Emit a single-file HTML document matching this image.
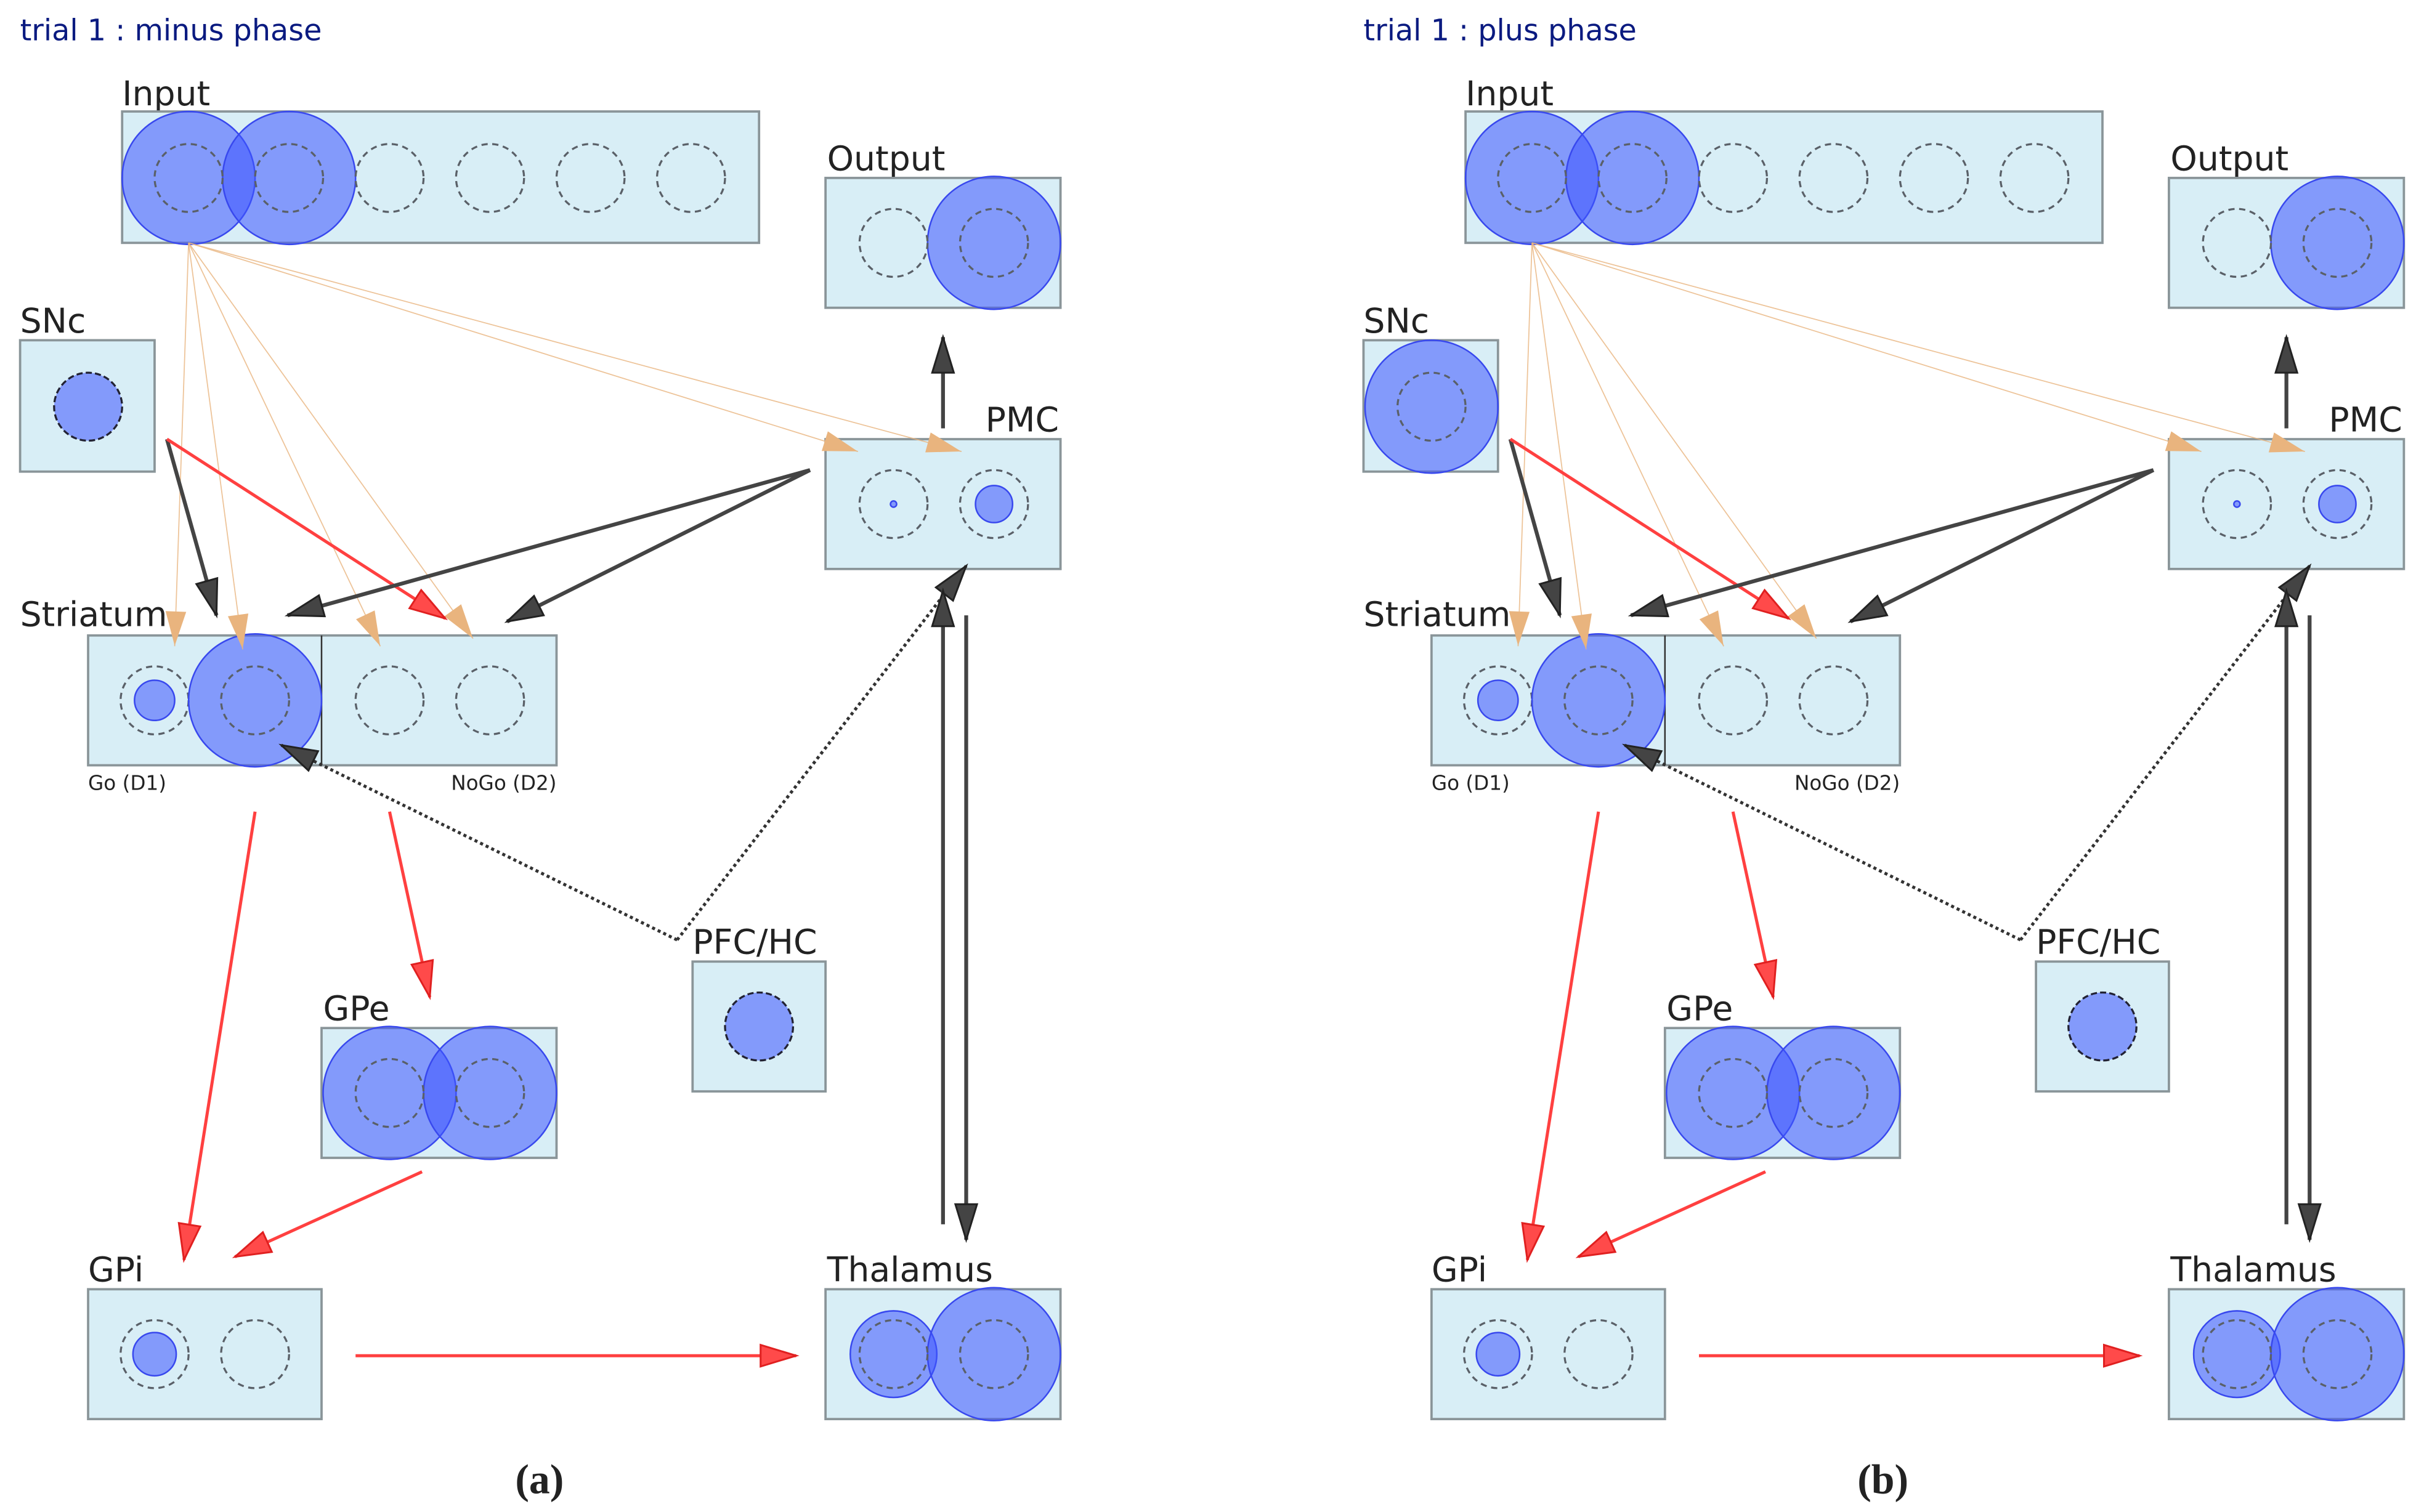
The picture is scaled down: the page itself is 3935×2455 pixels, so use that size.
<!DOCTYPE html>
<html><head><meta charset="utf-8"><style>
html,body{margin:0;padding:0;background:#fff}
svg{display:block}
text{font-family:"DejaVu Sans","Liberation Sans",sans-serif;fill:#222}
</style></head><body>
<svg width="3935" height="2455" viewBox="0 0 1568 978" xmlns="http://www.w3.org/2000/svg">
<defs>
<marker id="mk" markerUnits="userSpaceOnUse" markerWidth="26" markerHeight="18" refX="24" refY="8" orient="auto"><path d="M1,1 L24,8 L1,15 Z" fill="#444" stroke="#222" stroke-width="1.2"/></marker>
<marker id="mt" markerUnits="userSpaceOnUse" markerWidth="26" markerHeight="18" refX="24" refY="8" orient="auto"><path d="M2,2 L22,8 L2,14 Z" fill="#e9b47e" stroke="#e9b47e" stroke-width="1"/></marker>
<marker id="mr" markerUnits="userSpaceOnUse" markerWidth="26" markerHeight="18" refX="24" refY="8" orient="auto"><path d="M1,1 L24,8 L1,15 Z" fill="#ff4a4a" stroke="#e02020" stroke-width="1.2"/></marker>
</defs>
<style>
.bx{fill:#d8eef6;stroke:#8a9599;stroke-width:1.5}
.ds{fill:none;stroke:#5a6068;stroke-width:1.3;stroke-dasharray:4 3}
.ac{fill:#3e55ff;fill-opacity:0.55;stroke:#3848ee;stroke-width:1}
.ad{fill:#3e55ff;fill-opacity:0.55;stroke:#223;stroke-width:1.3;stroke-dasharray:4 2}
.lb{font-size:22px}
.sm{font-size:13px}
.tn{stroke:#e9b47e;stroke-width:0.7;stroke-opacity:0.8;fill:none}
.bk{stroke:#444;stroke-width:2.5;fill:none}
.rd{stroke:#ff4040;stroke-width:2;fill:none}
.dt{stroke:#333;stroke-width:2;stroke-dasharray:2 2;fill:none}
</style>

<!-- PANEL A -->
<g>
<text x="13" y="26" style="font-size:19px;fill:#0a1a80">trial 1 : minus phase</text>
<text class="lb" x="79" y="68">Input</text>
<rect class="bx" x="79" y="72" width="412" height="85"/>
<circle class="ac" cx="122" cy="115" r="43"/><circle class="ac" cx="187" cy="115" r="43"/>
<circle class="ds" cx="122" cy="115" r="22"/><circle class="ds" cx="187" cy="115" r="22"/><circle class="ds" cx="252" cy="115" r="22"/><circle class="ds" cx="317" cy="115" r="22"/><circle class="ds" cx="382" cy="115" r="22"/><circle class="ds" cx="447" cy="115" r="22"/>
<text class="lb" x="535" y="110">Output</text>
<rect class="bx" x="534" y="115" width="152" height="84"/>
<circle class="ac" cx="643" cy="157" r="43"/>
<circle class="ds" cx="578" cy="157" r="22"/><circle class="ds" cx="643" cy="157" r="22"/>
<text class="lb" x="13" y="215">SNc</text>
<rect class="bx" x="13" y="220" width="87" height="85"/>
<circle class="ad" cx="57" cy="263" r="22"/>
<text class="lb" x="685" y="279" text-anchor="end">PMC</text>
<rect class="bx" x="534" y="284" width="152" height="84"/>
<circle class="ds" cx="578" cy="326" r="22"/><circle class="ac" cx="578" cy="326" r="2"/>
<circle class="ds" cx="643" cy="326" r="22"/><circle class="ac" cx="643" cy="326" r="12"/>
<text class="lb" x="13" y="405">Striatum</text>
<rect class="bx" x="57" y="411" width="303" height="84"/>
<line x1="208" y1="411" x2="208" y2="495" stroke="#333" stroke-width="1"/>
<circle class="ds" cx="100" cy="453" r="22"/><circle class="ac" cx="100" cy="453" r="13"/>
<circle class="ac" cx="165" cy="453" r="43"/><circle class="ds" cx="165" cy="453" r="22"/>
<circle class="ds" cx="252" cy="453" r="22"/><circle class="ds" cx="317" cy="453" r="22"/>
<text class="sm" x="57" y="511">Go (D1)</text>
<text class="sm" x="360" y="511" text-anchor="end">NoGo (D2)</text>
<text class="lb" x="209" y="660">GPe</text>
<rect class="bx" x="208" y="665" width="152" height="84"/>
<circle class="ac" cx="252" cy="707" r="43"/><circle class="ac" cx="317" cy="707" r="43"/>
<circle class="ds" cx="252" cy="707" r="22"/><circle class="ds" cx="317" cy="707" r="22"/>
<text class="lb" x="448" y="617">PFC/HC</text>
<rect class="bx" x="448" y="622" width="86" height="84"/>
<circle class="ad" cx="491" cy="664" r="22"/>
<text class="lb" x="57" y="829">GPi</text>
<rect class="bx" x="57" y="834" width="151" height="84"/>
<circle class="ds" cx="100" cy="876" r="22"/><circle class="ac" cx="100" cy="876" r="14"/>
<circle class="ds" cx="165" cy="876" r="22"/>
<text class="lb" x="535" y="829">Thalamus</text>
<rect class="bx" x="534" y="834" width="152" height="84"/>
<circle class="ac" cx="578" cy="876" r="28"/><circle class="ac" cx="643" cy="876" r="43"/>
<circle class="ds" cx="578" cy="876" r="22"/><circle class="ds" cx="643" cy="876" r="22"/>
<line class="tn" x1="122" y1="157" x2="113" y2="418" marker-end="url(#mt)"/>
<line class="tn" x1="122" y1="157" x2="157" y2="420" marker-end="url(#mt)"/>
<line class="tn" x1="122" y1="157" x2="246" y2="418" marker-end="url(#mt)"/>
<line class="tn" x1="122" y1="157" x2="306" y2="413" marker-end="url(#mt)"/>
<line class="tn" x1="122" y1="157" x2="555" y2="292" marker-end="url(#mt)"/>
<line class="tn" x1="122" y1="157" x2="622" y2="292" marker-end="url(#mt)"/>
<line class="bk" x1="108" y1="284" x2="140" y2="398" marker-end="url(#mk)"/>
<line class="rd" x1="108" y1="284" x2="288" y2="400" marker-end="url(#mr)"/>
<line class="bk" x1="524" y1="304" x2="186" y2="398" marker-end="url(#mk)"/>
<line class="bk" x1="524" y1="304" x2="328" y2="402" marker-end="url(#mk)"/>
<line class="bk" x1="610" y1="277" x2="610" y2="218" marker-end="url(#mk)"/>
<polyline class="dt" points="438,608 182,482" marker-end="url(#mk)"/>
<polyline class="dt" points="438,608 625,366" marker-end="url(#mk)"/>
<line class="bk" x1="610" y1="792" x2="610" y2="382" marker-end="url(#mk)"/>
<line class="bk" x1="625" y1="398" x2="625" y2="802" marker-end="url(#mk)"/>
<line class="rd" x1="165" y1="525" x2="119" y2="815" marker-end="url(#mr)"/>
<line class="rd" x1="252" y1="525" x2="278" y2="645" marker-end="url(#mr)"/>
<line class="rd" x1="273" y1="758" x2="152" y2="813" marker-end="url(#mr)"/>
<line class="rd" x1="230" y1="877" x2="515" y2="877" marker-end="url(#mr)"/>
<text x="349" y="966" text-anchor="middle" style="font-family:'Liberation Serif',serif;font-weight:bold;font-size:27px">(a)</text>
</g>

<!-- PANEL B -->
<g transform="translate(869,0)">
<text x="13" y="26" style="font-size:19px;fill:#0a1a80">trial 1 : plus phase</text>
<text class="lb" x="79" y="68">Input</text>
<rect class="bx" x="79" y="72" width="412" height="85"/>
<circle class="ac" cx="122" cy="115" r="43"/><circle class="ac" cx="187" cy="115" r="43"/>
<circle class="ds" cx="122" cy="115" r="22"/><circle class="ds" cx="187" cy="115" r="22"/><circle class="ds" cx="252" cy="115" r="22"/><circle class="ds" cx="317" cy="115" r="22"/><circle class="ds" cx="382" cy="115" r="22"/><circle class="ds" cx="447" cy="115" r="22"/>
<text class="lb" x="535" y="110">Output</text>
<rect class="bx" x="534" y="115" width="152" height="84"/>
<circle class="ac" cx="643" cy="157" r="43"/>
<circle class="ds" cx="578" cy="157" r="22"/><circle class="ds" cx="643" cy="157" r="22"/>
<text class="lb" x="13" y="215">SNc</text>
<rect class="bx" x="13" y="220" width="87" height="85"/>
<circle class="ac" cx="57" cy="263" r="43"/><circle class="ds" cx="57" cy="263" r="22"/>
<text class="lb" x="685" y="279" text-anchor="end">PMC</text>
<rect class="bx" x="534" y="284" width="152" height="84"/>
<circle class="ds" cx="578" cy="326" r="22"/><circle class="ac" cx="578" cy="326" r="2"/>
<circle class="ds" cx="643" cy="326" r="22"/><circle class="ac" cx="643" cy="326" r="12"/>
<text class="lb" x="13" y="405">Striatum</text>
<rect class="bx" x="57" y="411" width="303" height="84"/>
<line x1="208" y1="411" x2="208" y2="495" stroke="#333" stroke-width="1"/>
<circle class="ds" cx="100" cy="453" r="22"/><circle class="ac" cx="100" cy="453" r="13"/>
<circle class="ac" cx="165" cy="453" r="43"/><circle class="ds" cx="165" cy="453" r="22"/>
<circle class="ds" cx="252" cy="453" r="22"/><circle class="ds" cx="317" cy="453" r="22"/>
<text class="sm" x="57" y="511">Go (D1)</text>
<text class="sm" x="360" y="511" text-anchor="end">NoGo (D2)</text>
<text class="lb" x="209" y="660">GPe</text>
<rect class="bx" x="208" y="665" width="152" height="84"/>
<circle class="ac" cx="252" cy="707" r="43"/><circle class="ac" cx="317" cy="707" r="43"/>
<circle class="ds" cx="252" cy="707" r="22"/><circle class="ds" cx="317" cy="707" r="22"/>
<text class="lb" x="448" y="617">PFC/HC</text>
<rect class="bx" x="448" y="622" width="86" height="84"/>
<circle class="ad" cx="491" cy="664" r="22"/>
<text class="lb" x="57" y="829">GPi</text>
<rect class="bx" x="57" y="834" width="151" height="84"/>
<circle class="ds" cx="100" cy="876" r="22"/><circle class="ac" cx="100" cy="876" r="14"/>
<circle class="ds" cx="165" cy="876" r="22"/>
<text class="lb" x="535" y="829">Thalamus</text>
<rect class="bx" x="534" y="834" width="152" height="84"/>
<circle class="ac" cx="578" cy="876" r="28"/><circle class="ac" cx="643" cy="876" r="43"/>
<circle class="ds" cx="578" cy="876" r="22"/><circle class="ds" cx="643" cy="876" r="22"/>
<line class="tn" x1="122" y1="157" x2="113" y2="418" marker-end="url(#mt)"/>
<line class="tn" x1="122" y1="157" x2="157" y2="420" marker-end="url(#mt)"/>
<line class="tn" x1="122" y1="157" x2="246" y2="418" marker-end="url(#mt)"/>
<line class="tn" x1="122" y1="157" x2="306" y2="413" marker-end="url(#mt)"/>
<line class="tn" x1="122" y1="157" x2="555" y2="292" marker-end="url(#mt)"/>
<line class="tn" x1="122" y1="157" x2="622" y2="292" marker-end="url(#mt)"/>
<line class="bk" x1="108" y1="284" x2="140" y2="398" marker-end="url(#mk)"/>
<line class="rd" x1="108" y1="284" x2="288" y2="400" marker-end="url(#mr)"/>
<line class="bk" x1="524" y1="304" x2="186" y2="398" marker-end="url(#mk)"/>
<line class="bk" x1="524" y1="304" x2="328" y2="402" marker-end="url(#mk)"/>
<line class="bk" x1="610" y1="277" x2="610" y2="218" marker-end="url(#mk)"/>
<polyline class="dt" points="438,608 182,482" marker-end="url(#mk)"/>
<polyline class="dt" points="438,608 625,366" marker-end="url(#mk)"/>
<line class="bk" x1="610" y1="792" x2="610" y2="382" marker-end="url(#mk)"/>
<line class="bk" x1="625" y1="398" x2="625" y2="802" marker-end="url(#mk)"/>
<line class="rd" x1="165" y1="525" x2="119" y2="815" marker-end="url(#mr)"/>
<line class="rd" x1="252" y1="525" x2="278" y2="645" marker-end="url(#mr)"/>
<line class="rd" x1="273" y1="758" x2="152" y2="813" marker-end="url(#mr)"/>
<line class="rd" x1="230" y1="877" x2="515" y2="877" marker-end="url(#mr)"/>
<text x="349" y="966" text-anchor="middle" style="font-family:'Liberation Serif',serif;font-weight:bold;font-size:27px">(b)</text>
</g>
</svg>
</body></html>
